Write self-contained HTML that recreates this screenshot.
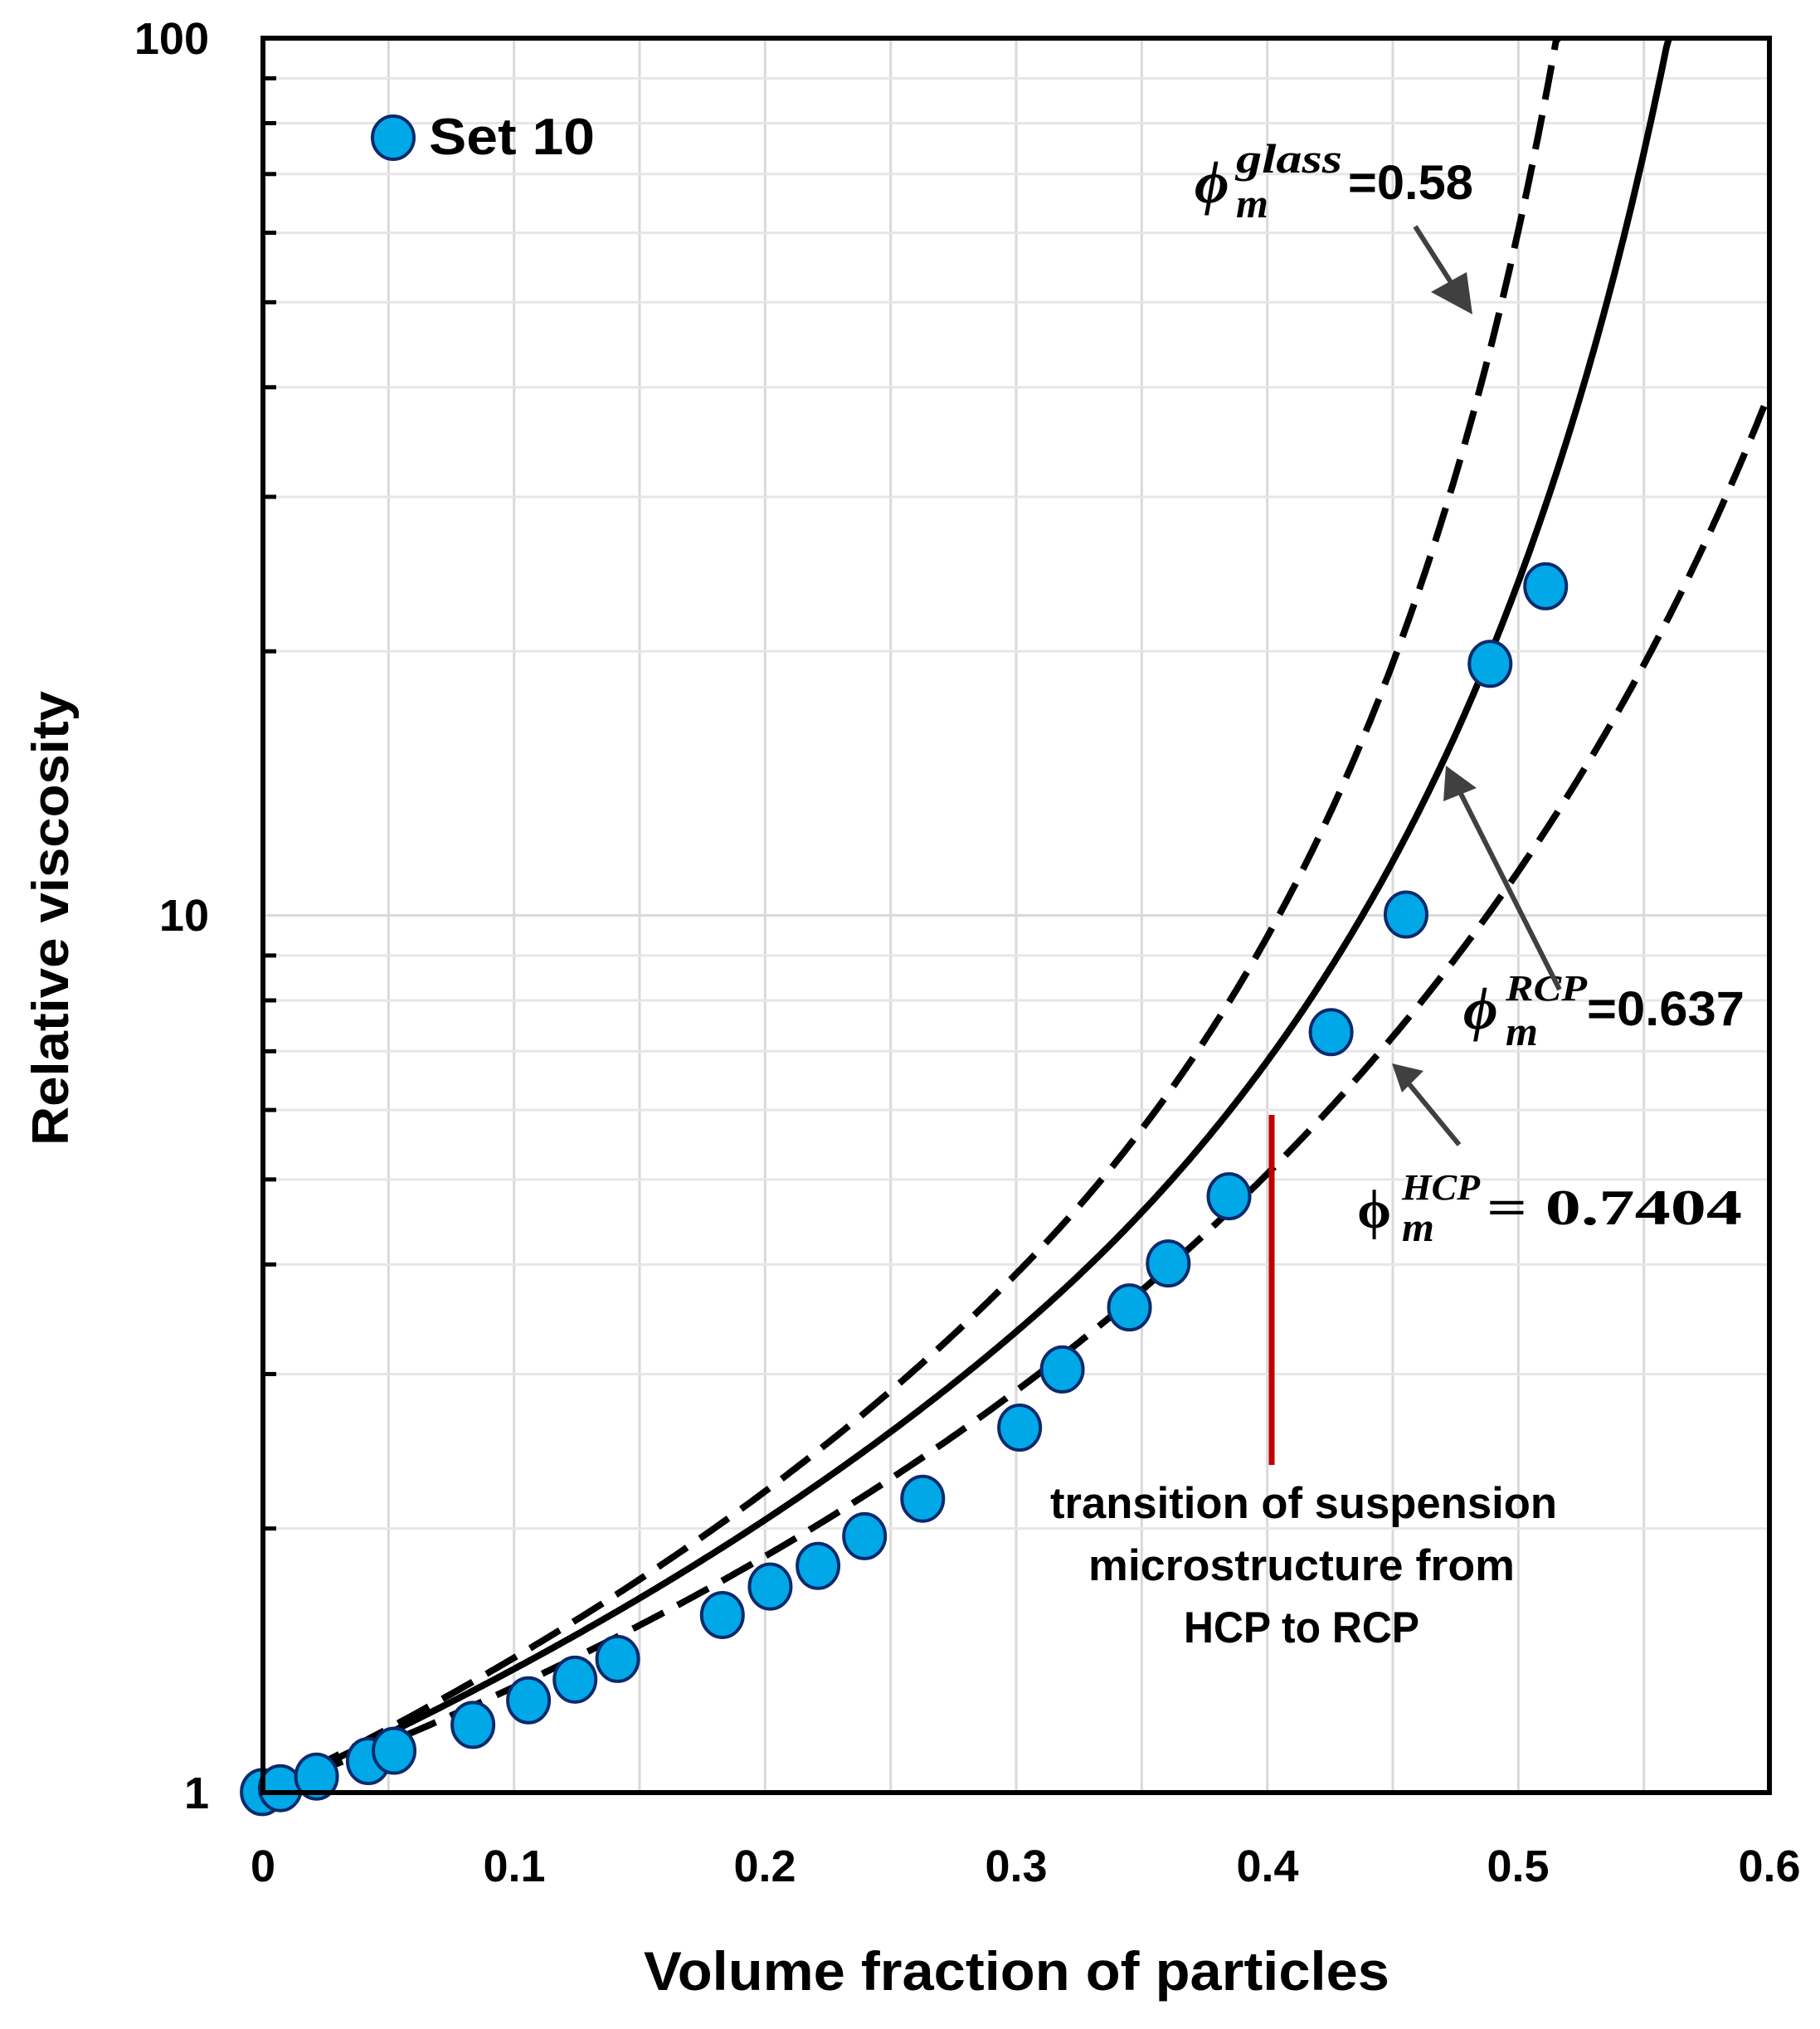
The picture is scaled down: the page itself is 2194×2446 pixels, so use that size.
<!DOCTYPE html>
<html><head><meta charset="utf-8"><style>
html,body{margin:0;padding:0;background:#fff;}
svg{display:block;}
text{font-family:"Liberation Sans",sans-serif;font-weight:bold;fill:#000;}
.m{font-family:"Liberation Serif",serif;font-style:italic;font-weight:bold;}
</style></head><body>
<svg id="s" width="2194" height="2446" viewBox="0 0 2194 2446" xmlns="http://www.w3.org/2000/svg">
<rect width="2194" height="2446" fill="#fff"/>
<g id="grid"></g>
<g id="curves"></g>
<line x1="1533" y1="1344" x2="1533" y2="1766" stroke="#c00000" stroke-width="7"/>
<g id="pts"></g>
<rect x="317" y="46" width="1816" height="2115" fill="none" stroke="#000" stroke-width="6"/>
<g id="ticks"></g>
<g font-size="54">
<text x="252" y="65" text-anchor="end">100</text>
<text x="252" y="1122" text-anchor="end">10</text>
<text x="252" y="2180" text-anchor="end">1</text>
<text x="317" y="2268" text-anchor="middle">0</text>
<text x="620" y="2268" text-anchor="middle">0.1</text>
<text x="922" y="2268" text-anchor="middle">0.2</text>
<text x="1225" y="2268" text-anchor="middle">0.3</text>
<text x="1528" y="2268" text-anchor="middle">0.4</text>
<text x="1830" y="2268" text-anchor="middle">0.5</text>
<text x="2133" y="2268" text-anchor="middle">0.6</text>
</g>
<text x="776" y="2399" font-size="66" textLength="899" lengthAdjust="spacingAndGlyphs">Volume fraction of particles</text>
<text transform="translate(82,1107) rotate(-90)" font-size="62" text-anchor="middle" textLength="548" lengthAdjust="spacingAndGlyphs">Relative viscosity</text>
<ellipse cx="474" cy="166" rx="25" ry="26" fill="#00a8e8" stroke="#0b2a6b" stroke-width="4"/>
<text x="517" y="186" font-size="62" textLength="200" lengthAdjust="spacingAndGlyphs">Set 10</text>
<text x="1440" y="244" font-size="72" class="m">ϕ</text>
<text x="1490" y="208" font-size="50" class="m" textLength="128" lengthAdjust="spacingAndGlyphs">glass</text>
<text x="1490" y="262" font-size="50" class="m">m</text>
<text x="1625" y="240" font-size="58" textLength="151" lengthAdjust="spacingAndGlyphs">=0.58</text>
<text x="1764" y="1240" font-size="72" class="m">ϕ</text>
<text x="1815" y="1206" font-size="44" class="m" textLength="98" lengthAdjust="spacingAndGlyphs">RCP</text>
<text x="1815" y="1260" font-size="50" class="m">m</text>
<text x="1913" y="1236" font-size="58" textLength="190" lengthAdjust="spacingAndGlyphs">=0.637</text>
<text x="1636" y="1480" font-size="66" style="font-family:'Liberation Serif',serif">ϕ</text>
<text x="1690" y="1446" font-size="44" class="m" textLength="94" lengthAdjust="spacingAndGlyphs">HCP</text>
<text x="1690" y="1496" font-size="50" class="m">m</text>
<text x="1792" y="1476" font-size="60" style="font-family:'Liberation Serif',serif" textLength="308" lengthAdjust="spacingAndGlyphs">= 0.7404</text>
<g stroke="#404040" stroke-width="6" fill="none">
<line x1="1706" y1="273" x2="1768" y2="370"/>
<line x1="1880" y1="1193" x2="1748" y2="931"/>
<line x1="1759" y1="1380" x2="1684" y2="1289"/>
</g>
<g fill="#404040">
<polygon points="1775,379 1725,352 1768,328"/>
<polygon points="1743,923 1780,950 1740,966"/>
<polygon points="1678,1282 1716,1291 1690,1317"/>
</g>
<g font-size="53">
<text x="1266" y="1830" textLength="611" lengthAdjust="spacingAndGlyphs">transition of suspension</text>
<text x="1312" y="1905" textLength="514" lengthAdjust="spacingAndGlyphs">microstructure from</text>
<text x="1427" y="1980" textLength="284" lengthAdjust="spacingAndGlyphs">HCP to RCP</text>
</g>
</svg>
<script>
const NS="http://www.w3.org/2000/svg";
const X=p=>317+p*3026.7, Y=v=>2161-Math.log10(v)*1057.5;
function el(t,a,par){const e=document.createElementNS(NS,t);for(const k in a)e.setAttribute(k,a[k]);document.getElementById(par).appendChild(e);return e;}
for(let i=1;i<12;i++){const x=X(i*0.05);el('line',{x1:x,y1:46,x2:x,y2:2161,stroke:'#d9d9d9','stroke-width':3},'grid');}
for(const d of [1,10])for(let k=2;k<=9;k++){const y=Y(d*k);el('line',{x1:317,y1:y,x2:2133,y2:y,stroke:'#e6e6e6','stroke-width':3},'grid');el('line',{x1:317,y1:y,x2:333,y2:y,stroke:'#000','stroke-width':5},'ticks');}
{const y=Y(10);el('line',{x1:317,y1:y,x2:2133,y2:y,stroke:'#d9d9d9','stroke-width':3},'grid');}
function curve(pm,nf,dash){let d='';for(let p=0;p<=0.6001;p+=0.001){const v=Math.pow(1-p/pm,-nf(p));if(!isFinite(v)||v>100||p>=pm){d+='L'+X(p).toFixed(1)+','+Y(100).toFixed(1);break;}d+=(d?'L':'M')+X(p).toFixed(1)+','+Y(v).toFixed(1);}
const a={d:d,fill:'none',stroke:'#000','stroke-width':8};if(dash)a['stroke-dasharray']='42 19';el('path',a,'curves');}
const nA=p=>1.9+4.2*Math.pow(Math.max(0,p-0.3),2);
curve(0.58,p=>1.87+5*Math.pow(Math.max(0,p-0.3),2),true);curve(0.637,nA,false);curve(0.7404,p=>1.85+0.6*p,true);
const P=[[201,1386],[215,1383],[243,1374],[283,1362],[303,1354],[364,1334],[407,1315],[443,1299],[476,1283],[557,1249],[594,1227],[631,1211],[667,1188],[712,1159],[787,1104],[820,1059],[872,1011],[902,977],[949,925],[1028,798],[1086,707],[1151,513],[1194,453]];
for(const [x,y] of P)el('ellipse',{cx:1.558*x+3,cy:1.558*y+1,rx:25,ry:27,fill:'#00a8e8',stroke:'#0b2a6b','stroke-width':4},'pts');
</script>
</body></html>
